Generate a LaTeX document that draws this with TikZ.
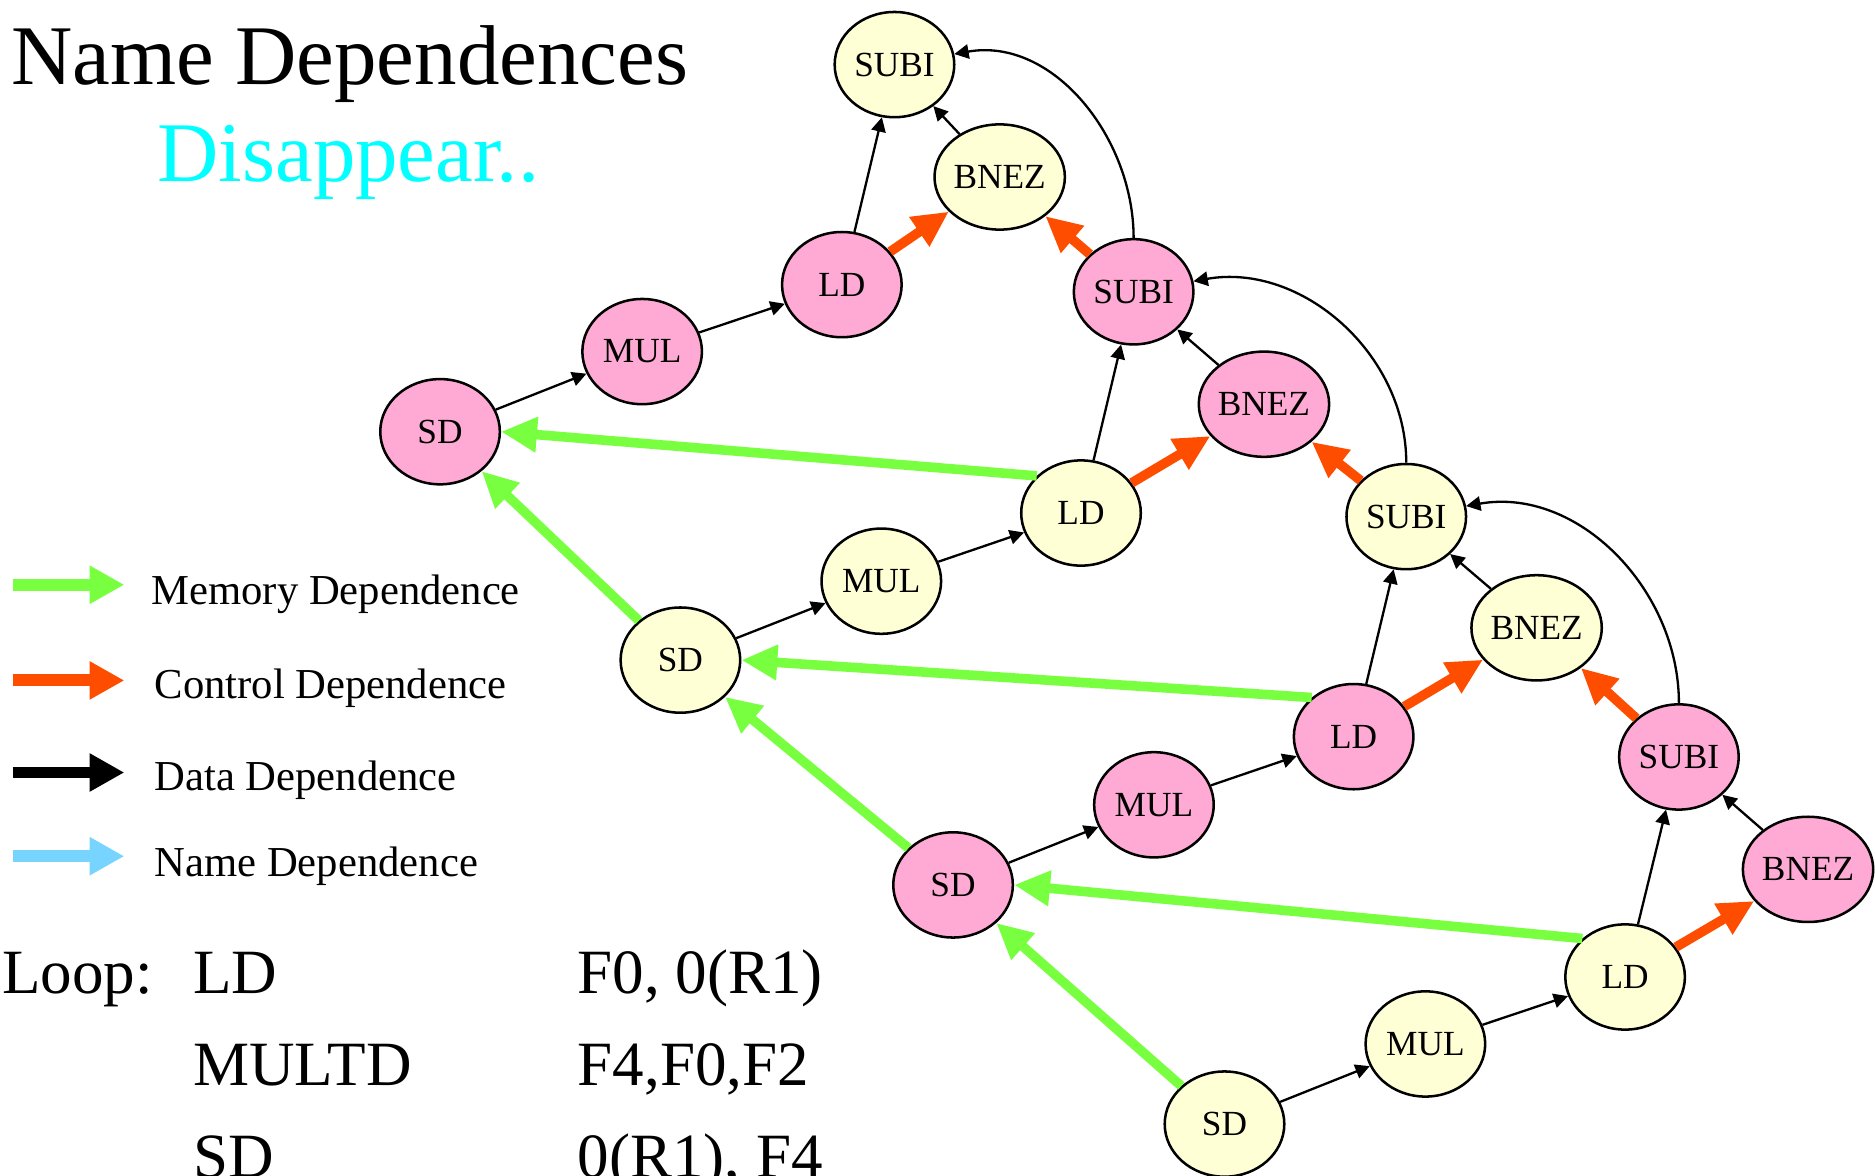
\documentclass[tikz,border=0pt]{standalone}
\usepackage{fontspec}
\setmainfont{Liberation Serif}
\usetikzlibrary{arrows.meta,shapes.geometric}

\definecolor{instpink}{RGB}{255,170,212}
\definecolor{instyellow}{RGB}{255,255,214}
\definecolor{memgreen}{RGB}{119,255,64}
\definecolor{ctrlorange}{RGB}{255,77,0}
\definecolor{nameblue}{RGB}{119,212,255}
\definecolor{titlecyan}{RGB}{0,255,255}

\begin{document}
\begin{tikzpicture}[
    inst/.style={ellipse,draw,line width=0.6pt,minimum width=1cm,minimum height=0.88cm,inner sep=0pt,font=\fontsize{8.4}{10}\selectfont},
    pinkinst/.style={inst,fill=instpink},
    yellowinst/.style={inst,fill=instyellow},
    datadep/.style={line width=0.55pt,-{Triangle[length=1.2mm,width=1.2mm]}},
    memdep/.style={memgreen,line width=0.8mm,-{Triangle[length=3mm,width=2.8mm]}},
    ctrldep/.style={ctrlorange,line width=0.8mm,-{Triangle[length=3mm,width=2.8mm]}},
    legarrow/.style={line width=1mm,-{Triangle[length=2.9mm,width=3mm]}},
    legtext/.style={anchor=base west,inner sep=0pt,font=\fontsize{10.15}{12}\selectfont},
    looptext/.style={anchor=base west,inner sep=0pt,font=\fontsize{15}{18}\selectfont}]

\useasboundingbox (0,0) rectangle (15.68,-9.83);

\node[anchor=base west,inner sep=0pt,font=\fontsize{20.2}{24}\selectfont] (title) at (0.09,-0.71) {Name Dependences};
\node[anchor=base west,inner sep=0pt,font=\fontsize{20.2}{24}\selectfont,text=titlecyan] (subtitle) at (1.31,-1.52) {Disappear..};

\node[yellowinst] (subi0) at (7.48,-0.54) {SUBI};
\node[yellowinst] (bnez0) at (8.36,-1.48) {BNEZ};

\node[pinkinst] (sd1) at (3.68,-3.61) {SD};
\node[pinkinst] (mul1) at (5.37,-2.94) {MUL};
\node[pinkinst] (ld1) at (7.04,-2.38) {LD};
\node[pinkinst] (subi1) at (9.48,-2.44) {SUBI};
\node[pinkinst] (bnez1) at (10.57,-3.38) {BNEZ};

\node[yellowinst] (sd2) at (5.69,-5.52) {SD};
\node[yellowinst] (mul2) at (7.37,-4.86) {MUL};
\node[yellowinst] (ld2) at (9.04,-4.29) {LD};
\node[yellowinst] (subi2) at (11.76,-4.32) {SUBI};
\node[yellowinst] (bnez2) at (12.85,-5.25) {BNEZ};

\node[pinkinst] (sd3) at (7.97,-7.40) {SD};
\node[pinkinst] (mul3) at (9.65,-6.73) {MUL};
\node[pinkinst] (ld3) at (11.32,-6.16) {LD};
\node[pinkinst] (subi3) at (14.04,-6.33) {SUBI};
\node[pinkinst] (bnez3) at (15.12,-7.27) {BNEZ};

\node[yellowinst] (sd4) at (10.24,-9.40) {SD};
\node[yellowinst] (mul4) at (11.92,-8.73) {MUL};
\node[yellowinst] (ld4) at (13.59,-8.17) {LD};

\draw[datadep] (sd1) -- (mul1);
\draw[datadep] (mul1) -- (ld1);
\draw[datadep] (ld1) -- (subi0);
\draw[datadep] (bnez0) -- (subi0);
\draw[datadep] (subi1) to[out=90,in=10] (subi0);
\draw[ctrldep] (ld1) -- (bnez0);
\draw[ctrldep] (subi1) -- (bnez0);

\draw[datadep] (sd2) -- (mul2);
\draw[datadep] (mul2) -- (ld2);
\draw[datadep] (ld2) -- (subi1);
\draw[datadep] (bnez1) -- (subi1);
\draw[datadep] (subi2) to[out=90,in=10] (subi1);
\draw[ctrldep] (ld2) -- (bnez1);
\draw[ctrldep] (subi2) -- (bnez1);
\draw[memdep] (ld2.140) -- (sd1.east);
\draw[memdep] (sd2) -- (sd1);

\draw[datadep] (sd3) -- (mul3);
\draw[datadep] (mul3) -- (ld3);
\draw[datadep] (ld3) -- (subi2);
\draw[datadep] (bnez2) -- (subi2);
\draw[datadep] (subi3) to[out=90,in=10] (subi2);
\draw[ctrldep] (ld3) -- (bnez2);
\draw[ctrldep] (subi3) -- (bnez2);
\draw[memdep] (ld3.137) -- (sd2.east);
\draw[memdep] (sd3) -- (sd2);

\draw[datadep] (sd4) -- (mul4);
\draw[datadep] (mul4) -- (ld4);
\draw[datadep] (ld4) -- (subi3);
\draw[datadep] (bnez3) -- (subi3);
\draw[ctrldep] (ld4) -- (bnez3);
\draw[memdep] (ld4.138) -- (sd3.east);
\draw[memdep] (sd4) -- (sd3);

\coordinate (memfrom) at (0.106,-4.89);
\coordinate (memto) at (1.04,-4.89);
\coordinate (ctrlfrom) at (0.106,-5.69);
\coordinate (ctrlto) at (1.04,-5.69);
\coordinate (datafrom) at (0.106,-6.46);
\coordinate (datato) at (1.04,-6.46);
\coordinate (namefrom) at (0.106,-7.16);
\coordinate (nameto) at (1.04,-7.16);
\draw[legarrow,memgreen] (memfrom) -- (memto);
\draw[legarrow,ctrlorange] (ctrlfrom) -- (ctrlto);
\draw[legarrow,black] (datafrom) -- (datato);
\draw[legarrow,nameblue] (namefrom) -- (nameto);
\node[legtext] (memlabel) at (1.26,-5.057) {Memory Dependence};
\node[legtext] (ctrllabel) at (1.286,-5.837) {Control Dependence};
\node[legtext] (datalabel) at (1.286,-6.61) {Data Dependence};
\node[legtext] (namelabel) at (1.286,-7.327) {Name Dependence};

\node[looptext] (looplabel) at (0.01,-8.31) {Loop:};
\node[looptext] (op1) at (1.61,-8.31) {LD};
\node[looptext] (arg1) at (4.825,-8.31) {F0, 0(R1)};
\node[looptext] (op2) at (1.61,-9.08) {MULTD};
\node[looptext] (arg2) at (4.825,-9.08) {F4,F0,F2};
\node[looptext] (op3) at (1.61,-9.85) {SD};
\node[looptext] (arg3) at (4.825,-9.85) {0(R1), F4};
\end{tikzpicture}
\end{document}
